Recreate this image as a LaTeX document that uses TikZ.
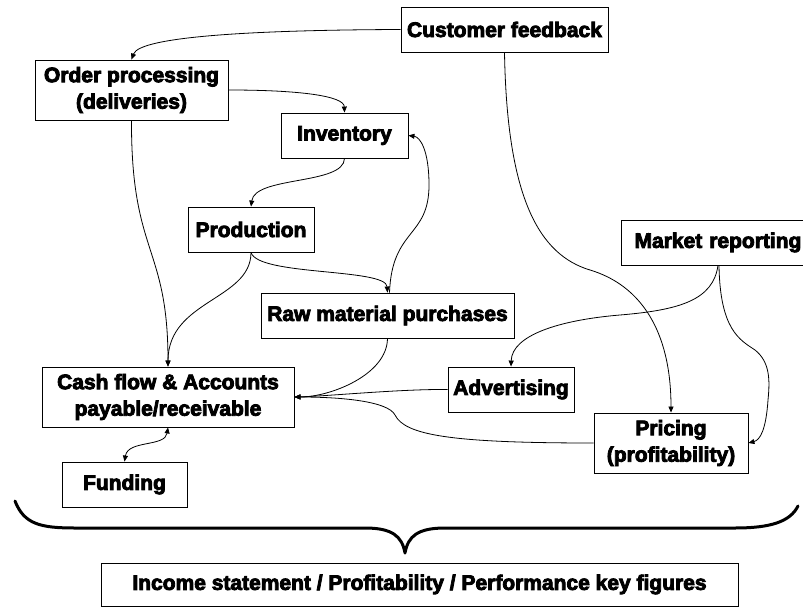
\documentclass[tikz,border=0pt]{standalone}
\usepackage{fontspec}
\setmainfont{Liberation Sans}[BoldFeatures={FakeBold=4}]
\usetikzlibrary{arrows.meta}
\begin{document}
\begin{tikzpicture}[x=1pt,y=-1pt,
  box/.style={draw, line width=0.9pt, fill=white, inner sep=0pt, align=center,
    font=\fontsize{21}{26.5}\selectfont\bfseries},
  link/.style={line width=0.8pt, -{Triangle[length=6pt,width=5pt]}},
  brace/.style={line width=3pt, line cap=round, line join=round}]
\useasboundingbox (0,0) rectangle (803,607);
\fill[white] (0,0) rectangle (803,607);

% boxes
\node[box, minimum width=207pt, minimum height=45pt] (cust) at (504.5,29.5) {Customer feedback};
\node[box, minimum width=193pt, minimum height=60pt] (order) at (131.5,90) {Order processing\\(deliveries)};
\node[box, minimum width=127pt, minimum height=45pt] (inv) at (344.5,135.5) {Inventory};
\node[box, minimum width=126pt, minimum height=45pt] (prod) at (251,229.5) {Production};
\node[box, minimum width=253pt, minimum height=45pt] (raw) at (387.5,315.5) {Raw material purchases};
\node[box, minimum width=252pt, minimum height=60pt] (cash) at (168,397) {Cash flow \& Accounts\\payable/receivable};
\node[box, minimum width=125pt, minimum height=45pt] (fund) at (124.5,484.5) {Funding};
\node[box, minimum width=194pt, minimum height=45pt, text width=194pt] (market) at (718,242.5) {Market reporting};
\node[box, minimum width=126pt, minimum height=45pt] (adv) at (511,389.5) {Advertising};
\node[box, minimum width=154pt, minimum height=60pt] (price) at (671,443) {Pricing\\(profitability)};
\node[box, minimum width=637pt, minimum height=43pt] (income) at (419.5,584.5) {Income statement / Profitability / Performance key figures};

% connectors
\draw[link] (cust.west) .. controls (260,30) and (140,36) .. (order.north);
\draw[link] (order.east) .. controls (300,90) and (344,96) .. (inv.north);
\draw[link] (inv.south) .. controls (344,185) and (255,176) .. (prod.north);
\draw[link] (order.south) .. controls (131,255) and (168,245) .. (cash.north);
\draw[link] (prod.south) .. controls (251,300) and (168,300) .. (cash.north);
\draw[link] (prod.south) .. controls (258,276) and (386,268) .. (raw.north);
\draw[link] ([xshift=2pt]raw.north) .. controls (392,228) and (429,238) .. (429,185)
  .. controls (429,150) and (420,137) .. (inv.east);
\draw[link] (raw.south) .. controls (387,375) and (330,397) .. (cash.east);
\draw[link] (adv.west) .. controls (400,389) and (330,396) .. (cash.east);
\draw[link] (price.west) .. controls (450,443) and (405,435) .. (395,415)
  .. controls (388,401) and (340,397) .. (cash.east);
\draw[link] (cust.south) .. controls (507,200) and (540,255) .. (590,270)
  .. controls (640,285) and (671,330) .. (price.north);
\draw[link] (market.south) .. controls (713,300) and (680,310) .. (620,315)
  .. controls (560,320) and (512,335) .. (adv.north);
\draw[link] ([xshift=1pt]market.south) .. controls (720,330) and (740,340) .. (755,350)
  .. controls (770,362) and (770,380) .. (768,400)
  .. controls (766,430) and (760,440) .. (price.east);
\draw[link, {Triangle[length=6pt,width=5pt]}-{Triangle[length=6pt,width=5pt]}]
  (cash.south) .. controls (165,447) and (128,440) .. (fund.north);

% curly brace over the summary box
\coordinate (braceL) at (15,501);
\coordinate (braceR) at (798,506);
\coordinate (braceTip) at (405,553);
\draw[brace] (braceL) .. controls (24,524) and (40,528) .. (75,528) -- (365,528)
  .. controls (392,528) and (402,536) .. (braceTip)
  .. controls (408,536) and (418,528) .. (445,528) -- (735,528)
  .. controls (770,528) and (790,522) .. (braceR);
\end{tikzpicture}
\end{document}
